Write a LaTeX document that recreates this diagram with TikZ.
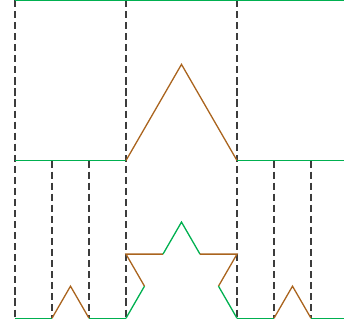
\documentclass[tikz,border=0pt]{standalone}
\usetikzlibrary{arrows, arrows.meta}
\definecolor{kochgreen}{RGB}{0,176,80}
\definecolor{kochbrown}{RGB}{170,100,30}
\definecolor{guidegray}{RGB}{60,60,60}
\tikzset{kept/.style={kochgreen, line width=1pt},
         added/.style={kochbrown, line width=1pt},
         guide/.style={guidegray, line width=0.9pt, dash pattern=on 5.5pt off 3pt}}

\begin{document}
\begin{tikzpicture}
\useasboundingbox (-0.405, 0) rectangle (8.892, -8.865);
\foreach \x in {0, 3, 6} \draw[guide] (\x, 0)--(\x, -8.6) ; %Drittel
\foreach \x in {1, 2, 7, 8} \draw[guide] (\x, -4.338)--(\x, -8.6) ; %Neuntel
\draw[kept] (0, 0)--(9, 0) ; %Stufe 0
\draw[kept] (0, -4.338)--(3, -4.338) ; %Stufe 1
\draw[added] (3, -4.338)--++(60:3)--++(-60:3) ;
\draw[kept] (6, -4.338)--(9, -4.338) ;
\draw[kept] (0, -8.6)--(1, -8.6) ; %Stufe 2
\draw[added] (1, -8.6)--++(60:1)--++(-60:1) ;
\draw[kept] (2, -8.6)--(3, -8.6) ;
\draw[kept] (3, -8.6)--++(60:1) ;
\draw[added] (3.5, -7.734)--++(120:1)--++(0:1) ;
\draw[kept] (4, -6.868)--++(60:1)--++(-60:1) ;
\draw[added] (5, -6.868)--++(0:1)--++(-120:1) ;
\draw[kept] (5.5, -7.734)--++(-60:1) ;
\draw[kept] (6, -8.6)--(7, -8.6) ;
\draw[added] (7, -8.6)--++(60:1)--++(-60:1) ;
\draw[kept] (8, -8.6)--(9, -8.6) ;
\end{tikzpicture}
\end{document}
